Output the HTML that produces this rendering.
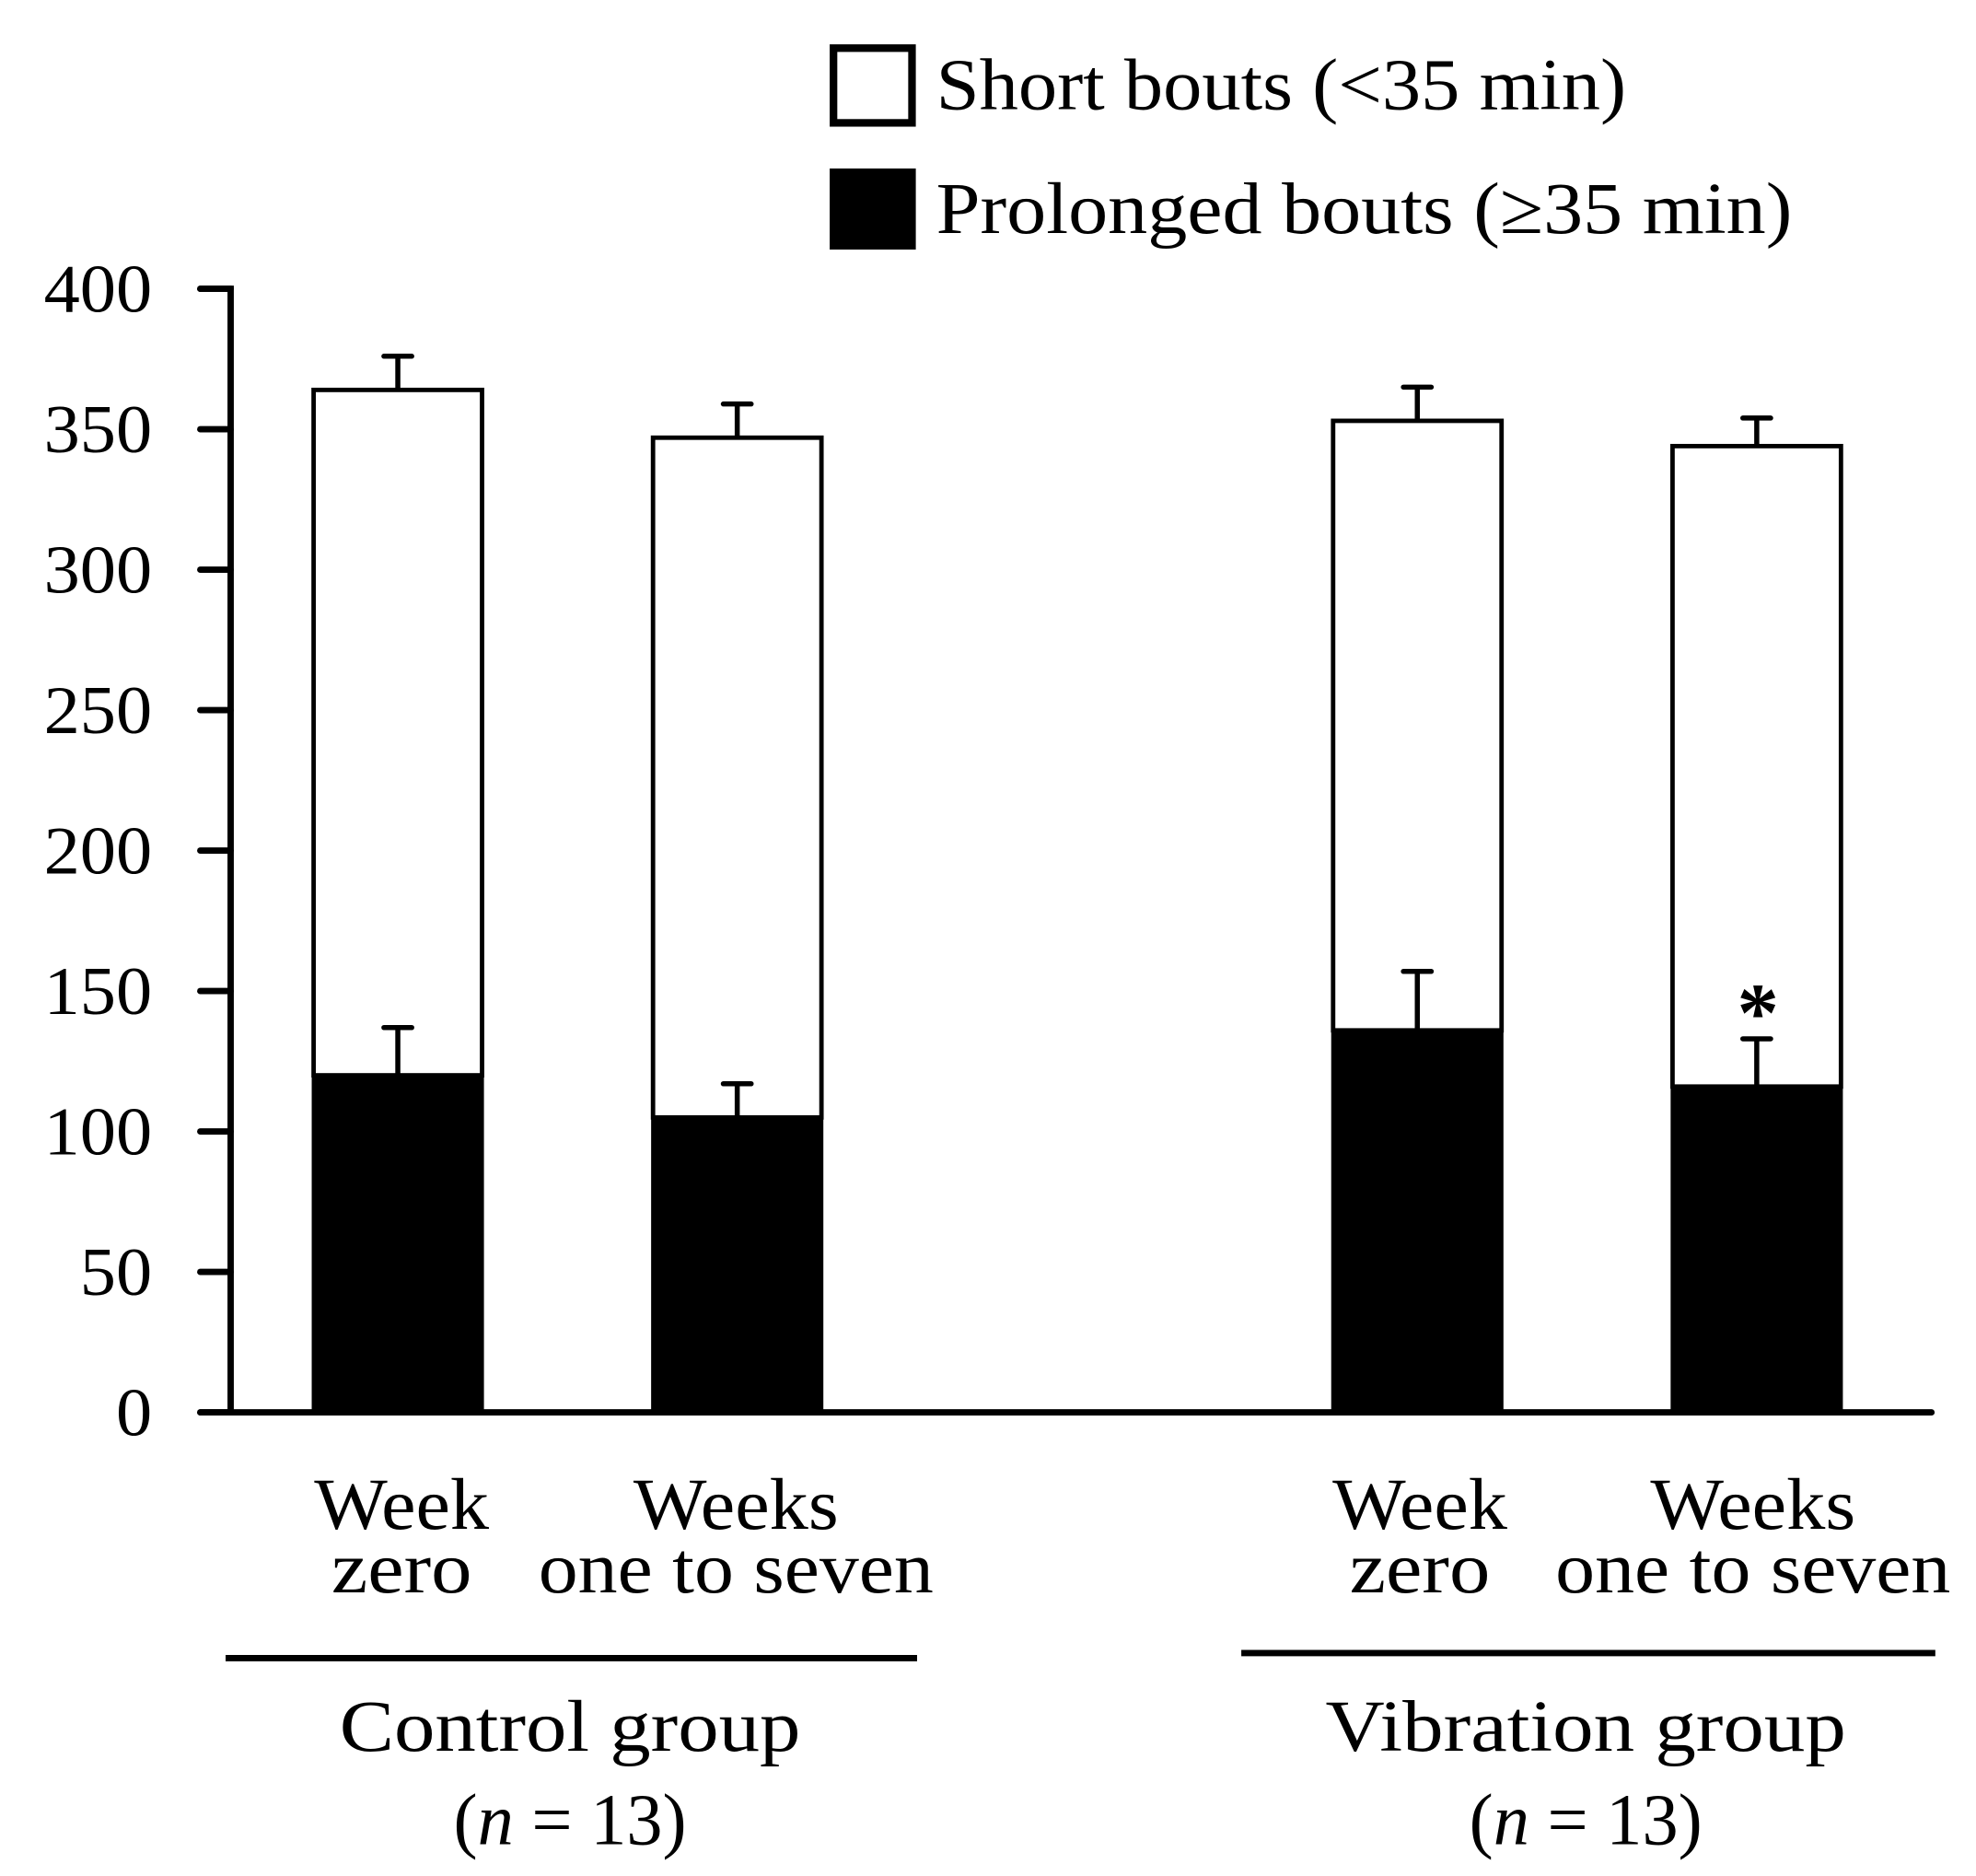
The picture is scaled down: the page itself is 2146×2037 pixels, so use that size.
<!DOCTYPE html>
<html><head><meta charset="utf-8"><style>html,body{margin:0;padding:0;background:#fff}svg{display:block}</style></head>
<body>
<svg id="chart" width="2146" height="2037" viewBox="0 0 1560 1481" xmlns="http://www.w3.org/2000/svg" font-family="'Liberation Serif', serif">
<g id="legend">
  <rect x="658" y="38" width="62" height="59" fill="#fff" stroke="#000" stroke-width="6"/>
  <text x="739" y="86" font-size="58" textLength="545" lengthAdjust="spacingAndGlyphs">Short bouts (&lt;35 min)</text>
  <rect x="655" y="133" width="68" height="64" fill="#000"/>
  <text x="739" y="184" font-size="58" textLength="676" lengthAdjust="spacingAndGlyphs">Prolonged bouts (≥35 min)</text>
</g>
<g id="plot"></g>
<g id="xlabels"></g>
<line x1="178" y1="1309" x2="724" y2="1309" stroke="#000" stroke-width="5"/>
<line x1="980" y1="1305" x2="1528" y2="1305" stroke="#000" stroke-width="5"/>
<text x="450" y="1382" font-size="58" text-anchor="middle" textLength="364" lengthAdjust="spacingAndGlyphs">Control group</text>
<text x="450" y="1456" font-size="58" text-anchor="middle" textLength="184" lengthAdjust="spacingAndGlyphs">(<tspan font-style="italic">n</tspan> = 13)</text>
<text x="1252" y="1382" font-size="58" text-anchor="middle" textLength="411" lengthAdjust="spacingAndGlyphs">Vibration group</text>
<text x="1252" y="1456" font-size="58" text-anchor="middle" textLength="184" lengthAdjust="spacingAndGlyphs">(<tspan font-style="italic">n</tspan> = 13)</text>
</svg>
<script>
const categories = ["Control week zero","Control weeks one to seven","Vibration week zero","Vibration weeks one to seven"];
const prolonged = [120, 105, 136, 116];
const prolongedErr = [17, 12, 21, 17];
const shortBouts = [244, 242, 217, 228];
const totalErr = [12, 12, 12, 10];
const significant = [false, false, false, true];
const yTicks = [0,50,100,150,200,250,300,350,400];
const labelLine1 = ["Week","Weeks","Week","Weeks"];
const labelLine2 = ["zero","one to seven","zero","one to seven"];

const NS="http://www.w3.org/2000/svg";
const y0=1115, yTop=228, yMax=400;
const yS=v=>y0-(v/yMax)*(y0-yTop);
const centers=[314,582,1119,1387];
const labelCenters=[317,581,1121,1384];
const bw=136;
const xS=i=>centers[i];
const plot=document.getElementById('plot');
function mk(tag,at,parent){const e=document.createElementNS(NS,tag);for(const k in at)e.setAttribute(k,at[k]);(parent||plot).appendChild(e);return e;}
const widthOf={"Week":138,"Weeks":162,"zero":111,"one to seven":312};

categories.forEach((c,i)=>{
  const cx=xS(i), x=cx-bw/2;
  const tot=prolonged[i]+shortBouts[i];
  const g=mk('g',{});
  
  
  const eb1=mk('path',{d:`M${cx} ${yS(tot)} V${yS(tot+totalErr[i])} M${cx-11} ${yS(tot+totalErr[i])} H${cx+11}`,stroke:'#000','stroke-width':4,'stroke-linecap':'round',fill:'none'},g);
  
  
  const sb=mk('rect',{x:x+1.5,y:yS(tot),width:bw-3,height:yS(prolonged[i])-yS(tot),fill:'#fff',stroke:'#000','stroke-width':3.5},g);
  
  
  const pb=mk('rect',{x:x,y:yS(prolonged[i]),width:bw,height:y0-yS(prolonged[i]),fill:'#000'},g);
  
  
  const eb2=mk('path',{d:`M${cx} ${yS(prolonged[i])} V${yS(prolonged[i]+prolongedErr[i])} M${cx-11} ${yS(prolonged[i]+prolongedErr[i])} H${cx+11}`,stroke:'#000','stroke-width':4,'stroke-linecap':'round',fill:'none'},g);
  
  
  if(significant[i]){
    const st=mk('text',{x:cx+1,y:yS(prolonged[i]+prolongedErr[i])+2,'font-size':66,'text-anchor':'middle','font-weight':'bold'},g);
    st.textContent='*';
    
    
  }
  const xl=document.getElementById('xlabels');
  const lc=labelCenters[i];
  const t1=mk('text',{x:lc,y:1207,'font-size':58,'text-anchor':'middle',textLength:widthOf[labelLine1[i]],lengthAdjust:'spacingAndGlyphs'},xl);
  t1.textContent=labelLine1[i];
  
  
  const t2=mk('text',{x:lc,y:1257,'font-size':58,'text-anchor':'middle',textLength:widthOf[labelLine2[i]],lengthAdjust:'spacingAndGlyphs'},xl);
  t2.textContent=labelLine2[i];
  
  
});

const ax=mk('path',{d:`M158 ${yTop} H182 V${y0} M158 ${y0} H1525`,stroke:'#000','stroke-width':5,fill:'none','stroke-linecap':'round'});


yTicks.forEach(v=>{
  const tk=mk('line',{x1:158,x2:182,y1:yS(v),y2:yS(v),stroke:'#000','stroke-width':5,'stroke-linecap':'round'});
  
  
  const s=String(v);
  const tl=mk('text',{x:120,y:yS(v)+18,'font-size':54,'text-anchor':'end',textLength:s.length*28.5,lengthAdjust:'spacingAndGlyphs'});
  tl.textContent=s;
  
  
});
</script>
</body></html>
